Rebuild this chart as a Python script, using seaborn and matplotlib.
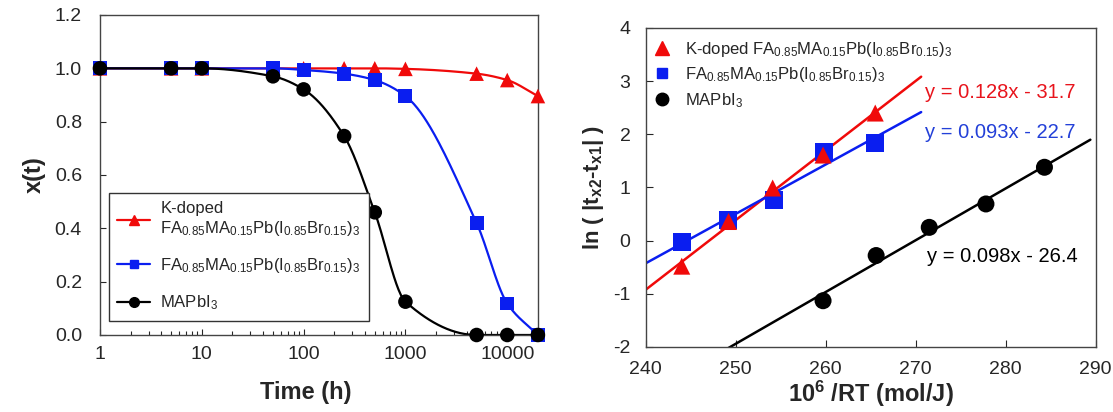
#Estabilidad de fases: x(t) y ajuste de Arrhenius
import numpy as np
import pandas as pd
import matplotlib
matplotlib.use("Agg")
import matplotlib.pyplot as plt
import seaborn as sns
from matplotlib.lines import Line2D

#Datos panel izquierdo
time_h = [1, 5, 10, 50, 100, 250, 500, 1000, 5000, 10000, 20000]
x_kdoped = [1.0, 1.0, 1.0, 1.0, 1.0, 1.0, 1.0, 0.998, 0.98, 0.956, 0.896]
x_fama = [1.0, 1.0, 1.0, 1.0, 0.994, 0.98, 0.956, 0.896, 0.42, 0.118, 0.0]
x_mapbi = [1.0, 1.0, 1.0, 0.97, 0.921, 0.746, 0.46, 0.125, 0.0, 0.0, 0.0]

#Datos panel derecho
inv_rt_kdoped = [244.0, 249.2, 254.1, 259.7, 265.5]
ln_kdoped = [-0.48, 0.36, 0.99, 1.61, 2.40]
inv_rt_fama = [244.0, 249.1, 254.2, 259.8, 265.5]
ln_fama = [-0.03, 0.39, 0.77, 1.66, 1.83]
inv_rt_mapbi = [259.7, 265.6, 271.5, 277.8, 284.3]
ln_mapbi = [-1.13, -0.28, 0.25, 0.69, 1.38]

eq_kdoped = "y = 0.128x - 31.7"
eq_fama = "y = 0.093x - 22.7"
eq_mapbi = "y = 0.098x - 26.4"

lbl_comp = r"FA$_{0.85}$MA$_{0.15}$Pb(I$_{0.85}$Br$_{0.15}$)$_3$"
lbl_mapbi = r"MAPbI$_3$"

RED = "#f00a0a"
BLUE = "#0a1ef0"
BLACK = "black"

sns.set_style("ticks")
plt.rcParams["font.family"] = ["Liberation Sans", "DejaVu Sans"]
plt.rcParams["mathtext.fontset"] = "custom"
plt.rcParams["mathtext.rm"] = "Liberation Sans"
plt.rcParams["mathtext.it"] = "Liberation Sans:italic"
plt.rcParams["mathtext.bf"] = "Liberation Sans:bold"
plt.rcParams["mathtext.default"] = "regular"
plt.rcParams["axes.unicode_minus"] = False


def pchip(x, y, xn):
    #curva suave monotona (Fritsch-Carlson) para dibujar la linea
    x = np.asarray(x, float)
    y = np.asarray(y, float)
    h = np.diff(x)
    d = np.diff(y) / h
    m = np.zeros_like(y)
    m[0], m[-1] = d[0], d[-1]
    for k in range(1, len(x) - 1):
        if d[k - 1] * d[k] > 0:
            w1 = 2 * h[k] + h[k - 1]
            w2 = h[k] + 2 * h[k - 1]
            m[k] = (w1 + w2) / (w1 / d[k - 1] + w2 / d[k])
    idx = np.clip(np.searchsorted(x, xn) - 1, 0, len(h) - 1)
    t = (xn - x[idx]) / h[idx]
    h00 = 2 * t**3 - 3 * t**2 + 1
    h10 = t**3 - 2 * t**2 + t
    h01 = -2 * t**3 + 3 * t**2
    h11 = t**3 - t**2
    return h00 * y[idx] + h10 * h[idx] * m[idx] + h01 * y[idx + 1] + h11 * h[idx] * m[idx + 1]


fig = plt.figure(figsize=(11.13, 4.12), dpi=100)
ax1 = fig.add_axes([0.0898, 0.1869, 0.3935, 0.7767])
ax2 = fig.add_axes([0.5802, 0.1578, 0.4043, 0.7743])

#Panel izquierdo
ax1.set_xscale("log")
logt = np.log10(time_h)
grid = np.linspace(logt[0], logt[-1], 400)
series = [(x_kdoped, RED, "^", 110), (x_fama, BLUE, "s", 100), (x_mapbi, BLACK, "o", 110)]
for vals, col, mk, s in series:
    curve = pd.DataFrame({"t": 10**grid, "x": pchip(logt, vals, grid)})
    sns.lineplot(data=curve, x="t", y="x", ax=ax1, color=col, lw=1.6,
                 estimator=None, sort=False, zorder=2)
for vals, col, mk, s in series:
    sns.scatterplot(x=time_h, y=vals, ax=ax1, color=col, marker=mk, s=s,
                    edgecolor="none", clip_on=False, zorder=3)

ax1.set_xlim(1, 20000)
ax1.set_ylim(0, 1.2)
ax1.set_yticks(np.arange(0, 1.21, 0.2))
ax1.set_yticklabels([f"{v:.1f}" for v in np.arange(0, 1.21, 0.2)])
ax1.set_xticks([1, 10, 100, 1000, 10000])
ax1.set_xticklabels(["1", "10", "100", "1000", "10000"])
ax1.tick_params(axis="x", which="both", direction="in", labelsize=14, pad=8,
                top=False, length=4, width=0.8)
ax1.tick_params(axis="x", which="minor", length=3)
ax1.tick_params(axis="y", direction="in", labelsize=14, pad=13, length=4, width=0.8)
ax1.set_xlabel("Time (h)", fontsize=17, fontweight="bold")
ax1.xaxis.set_label_coords(0.47, -0.145)
ax1.set_ylabel("x(t)", fontsize=17, fontweight="bold", labelpad=6)

handles1 = [
    Line2D([], [], color=RED, marker="^", ms=7, lw=1.6),
    Line2D([], [], color=BLUE, marker="s", ms=6, lw=1.6),
    Line2D([], [], color=BLACK, marker="o", ms=7, lw=1.6),
]
labels1 = ["K-doped\n" + lbl_comp, lbl_comp, lbl_mapbi]
leg1 = ax1.legend(handles1, labels1, loc="lower left", bbox_to_anchor=(0.02, 0.045),
                  borderaxespad=0, fontsize=12, frameon=True, fancybox=False,
                  edgecolor="#333333", framealpha=1, labelspacing=1.1,
                  handlelength=2.0, handletextpad=0.6, borderpad=0.5)
leg1.get_frame().set_linewidth(1.0)

#Panel derecho: lineas de ajuste (rango fijado con xlim antes de regplot)
ax2.set_xlim(240, 270.6)
sns.regplot(x=inv_rt_kdoped, y=ln_kdoped, ax=ax2, ci=None, truncate=False, scatter=False,
            line_kws={"color": RED, "lw": 1.8})
sns.regplot(x=inv_rt_fama, y=ln_fama, ax=ax2, ci=None, truncate=False, scatter=False,
            line_kws={"color": BLUE, "lw": 1.8})
ax2.set_xlim(245, 289.4)
sns.regplot(x=inv_rt_mapbi, y=ln_mapbi, ax=ax2, ci=None, truncate=False, scatter=False,
            line_kws={"color": BLACK, "lw": 1.8})

sns.scatterplot(x=inv_rt_fama, y=ln_fama, ax=ax2, color=BLUE, marker="s", s=170,
                edgecolor="none", zorder=3)
sns.scatterplot(x=inv_rt_kdoped, y=ln_kdoped, ax=ax2, color=RED, marker="^", s=150,
                edgecolor="none", zorder=4)
sns.scatterplot(x=inv_rt_mapbi, y=ln_mapbi, ax=ax2, color=BLACK, marker="o", s=150,
                edgecolor="none", zorder=3)

ax2.set_xlim(240, 290)
ax2.set_ylim(-2, 4)
ax2.set_xticks(range(240, 291, 10))
ax2.set_yticks(range(-2, 5))
ax2.tick_params(axis="both", direction="in", labelsize=14, length=5, width=0.8)
ax2.tick_params(axis="x", pad=10)
ax2.tick_params(axis="y", pad=11)
ax2.set_xlabel(r"10$^{\mathbf{6}}$ /RT (mol/J)", fontsize=17, fontweight="bold", labelpad=1)
ax2.set_ylabel(r"ln ( |t$_{\mathbf{x2}}$-t$_{\mathbf{x1}}$| )", fontsize=16,
               fontweight="bold", labelpad=5)

ax2.text(271.0, 2.79, eq_kdoped, color="#e8141c", fontsize=14.5, va="center")
ax2.text(271.0, 2.04, eq_fama, color="#2340d8", fontsize=14.5, va="center")
ax2.text(271.2, -0.29, eq_mapbi, color=BLACK, fontsize=14.5, va="center")

handles2 = [
    Line2D([], [], ls="none", color=RED, marker="^", ms=10),
    Line2D([], [], ls="none", color=BLUE, marker="s", ms=7),
    Line2D([], [], ls="none", color=BLACK, marker="o", ms=9),
]
ax2.legend(handles2, ["K-doped " + lbl_comp, lbl_comp, lbl_mapbi], loc="upper left",
           bbox_to_anchor=(-0.012, 1.0), frameon=False, fontsize=12, labelspacing=0.4,
           handlelength=1.2, handletextpad=0.8, borderaxespad=0.3)

for ax in (ax1, ax2):
    for sp in ax.spines.values():
        sp.set_color("#444444")
        sp.set_linewidth(1.0)
        sp.set_visible(True)

fig.savefig("out.png", dpi=100)
plt.close()
